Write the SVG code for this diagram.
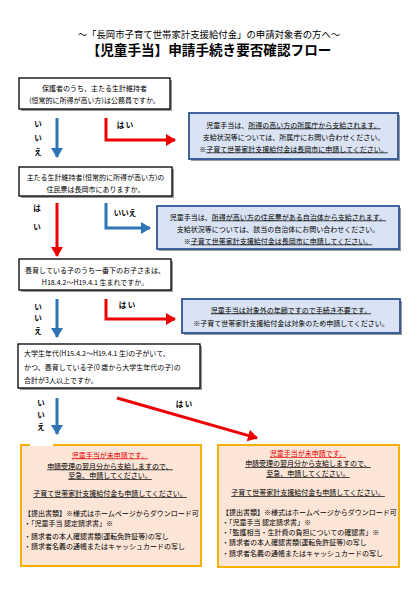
<svg xmlns="http://www.w3.org/2000/svg" width="420" height="592" viewBox="0 0 420 592">
<style>
text{font-family:"Noto Sans CJK JP","Noto Sans CJK SC",sans-serif;fill:#000;}
.t{font-size:7px;}
.c{text-anchor:middle;}
.u{text-decoration:underline;}
.red{fill:#e60000;}
.lbl{font-size:7.5px;font-weight:bold;text-anchor:middle;}
.q{fill:#fff;stroke:#000;stroke-width:1.3;}
.sh{fill:#9a9a9a;}
.info{fill:#dae3f3;stroke:#2f5597;stroke-width:1.8;}
.res{fill:#fbe5d6;stroke:#f5b000;stroke-width:2;}
.ar{fill:none;stroke-width:3;}
.rd{stroke:#ee0000;}
.bl{stroke:#2e75b6;}
</style>
<defs>
<marker id="mr" markerUnits="userSpaceOnUse" markerWidth="12" markerHeight="12" refX="9" refY="6" orient="auto"><path d="M0,0 L10,6 L0,12 z" fill="#ee0000"/></marker>
<marker id="mb" markerUnits="userSpaceOnUse" markerWidth="12" markerHeight="12" refX="9" refY="6" orient="auto"><path d="M0,0 L10,6 L0,12 z" fill="#2e75b6"/></marker>
</defs>
<rect width="420" height="592" fill="#fff"/>
<g id="title">
<text x="209" y="37.5" class="c" style="font-size:9.4px">～「長岡市子育て世帯家計支援給付金」の申請対象者の方へ～</text>
<text x="209" y="55" class="c" style="font-size:13.6px;font-weight:bold">【児童手当】申請手続き要否確認フロー</text>
</g>
<g id="connectors">
<path class="ar bl" d="M57,118 V157" marker-end="url(#mb)"/>
<path class="ar rd" d="M106,118 V140 H175" marker-end="url(#mr)"/>
<path class="ar rd" d="M57,203 V256" marker-end="url(#mr)"/>
<path class="ar bl" d="M106,203 V228 H150" marker-end="url(#mb)"/>
<path class="ar bl" d="M57,299 V337" marker-end="url(#mb)"/>
<path class="ar rd" d="M106,299 V319 H175" marker-end="url(#mr)"/>
<path class="ar bl" d="M57,398 V434" marker-end="url(#mb)"/>
<path class="ar rd" d="M117,398 L257,438" marker-end="url(#mr)"/>
<text x="38" y="127" class="lbl">い</text><text x="38" y="141" class="lbl">い</text><text x="38" y="155" class="lbl">え</text>
<text x="125" y="128" class="lbl">は い</text>
<text x="37" y="211" class="lbl">は</text><text x="37" y="230" class="lbl">い</text>
<text x="125" y="216" class="lbl">いいえ</text>
<text x="38" y="310" class="lbl">い</text><text x="38" y="321" class="lbl">い</text><text x="38" y="334" class="lbl">え</text>
<text x="127" y="308" class="lbl">は い</text>
<text x="41" y="406" class="lbl">い</text><text x="41" y="418" class="lbl">い</text><text x="41" y="430" class="lbl">え</text>
<text x="184" y="407" class="lbl">は い</text>
</g>
<g id="q1">
<rect class="sh" x="21" y="80" width="151" height="31"/>
<rect class="q" x="19" y="78" width="151" height="31"/>
<text x="94.5" y="91" class="t c">保護者のうち、主たる生計維持者</text>
<text x="94.5" y="103" class="t c">(恒常的に所得が高い方)は公務員ですか。</text>
</g>
<g id="a1">
<rect class="sh" x="191" y="115" width="209" height="46"/>
<rect class="info" x="189" y="113" width="209" height="46"/>
<text x="293.5" y="127.5" class="t c">児童手当は、<tspan class="u">所得の高い方の所属庁から支給されます。</tspan></text>
<text x="293.5" y="139.5" class="t c">支給状況等については、所属庁にお問い合わせください。</text>
<text x="293.5" y="151.5" class="t c">※<tspan class="u">子育て世帯家計支援給付金は長岡市に申請してください。</tspan></text>
</g>
<g id="q2">
<rect class="sh" x="21" y="169" width="153" height="29"/>
<rect class="q" x="19" y="167" width="153" height="29"/>
<text x="95.5" y="179.5" class="t c">主たる生計維持者(恒常的に所得が高い方)の</text>
<text x="95.5" y="191.5" class="t c">住民票は長岡市にありますか。</text>
</g>
<g id="a2">
<rect class="sh" x="159" y="208" width="242" height="43"/>
<rect class="info" x="157" y="206" width="242" height="43"/>
<text x="278" y="219.5" class="t c">児童手当は、<tspan class="u">所得が高い方の住民票がある自治体から支給されます。</tspan></text>
<text x="278" y="231.5" class="t c">支給状況等については、該当の自治体にお問い合わせください。</text>
<text x="278" y="243.5" class="t c">※<tspan class="u">子育て世帯家計支援給付金は長岡市に申請してください。</tspan></text>
</g>
<g id="q3">
<rect class="sh" x="21" y="261" width="152" height="31"/>
<rect class="q" x="19" y="259" width="152" height="31"/>
<text x="95" y="272.5" class="t c">養育している子のうち一番下のお子さまは、</text>
<text x="95" y="284.5" class="t c">H18.4.2～H19.4.1 生まれですか。</text>
</g>
<g id="a3">
<rect class="sh" x="184" y="301" width="218" height="34"/>
<rect class="info" x="182" y="299" width="218" height="34"/>
<text x="291" y="312.5" class="t c u">児童手当は対象外の年齢ですので手続き不要です。</text>
<text x="291" y="326" class="t c">※子育て世帯家計支援給付金は対象のため申請してください。</text>
</g>
<g id="q4">
<rect class="sh" x="20" y="346" width="182" height="44"/>
<rect class="q" x="18" y="344" width="182" height="44"/>
<text x="24" y="356" class="t">大学生年代(H15.4.2～H19.4.1 生)の子がいて、</text>
<text x="24" y="369.5" class="t">かつ、養育している子(0 歳から大学生年代の子)の</text>
<text x="24" y="383" class="t">合計が3人以上ですか。</text>
</g>
<g id="r1">
<rect class="res" x="21" y="445" width="180" height="121"/>
<rect x="30" y="441" width="23" height="5" fill="#fff"/>
<text x="110" y="457.5" class="t c u red">児童手当が未申請です。</text>
<text x="110" y="468.5" class="t c u">申請受理の翌月分から支給しますので、</text>
<text x="110" y="478" class="t c u">至急、申請してください。</text>
<text x="110" y="496" class="t c u">子育て世帯家計支援給付金も申請してください。</text>
<text x="24" y="515.5" class="t">【提出書類】※様式はホームページからダウンロード可</text>
<text x="24" y="525.5" class="t">・「児童手当 認定請求書」※</text>
<text x="24" y="538.5" class="t">・請求者の本人確認書類(運転免許証等)の写し</text>
<text x="24" y="548.5" class="t">・請求者名義の通帳またはキャッシュカードの写し</text>
</g>
<g id="r2">
<rect class="res" x="218" y="445" width="181" height="122"/>
<text x="308" y="456" class="t c u red">児童手当が未申請です。</text>
<text x="308" y="466" class="t c u">申請受理の翌月分から支給しますので、</text>
<text x="308" y="476" class="t c u">至急、申請してください。</text>
<text x="308" y="495" class="t c u">子育て世帯家計支援給付金も申請してください。</text>
<text x="222" y="514.5" class="t">【提出書類】※様式はホームページからダウンロード可</text>
<text x="222" y="524.5" class="t">・「児童手当 認定請求書」※</text>
<text x="222" y="534.5" class="t">・「監護相当・生計費の負担についての確認書」※</text>
<text x="222" y="544.5" class="t">・請求者の本人確認書類(運転免許証等)の写し</text>
<text x="222" y="555.5" class="t">・請求者名義の通帳またはキャッシュカードの写し</text>
</g>
</svg>
